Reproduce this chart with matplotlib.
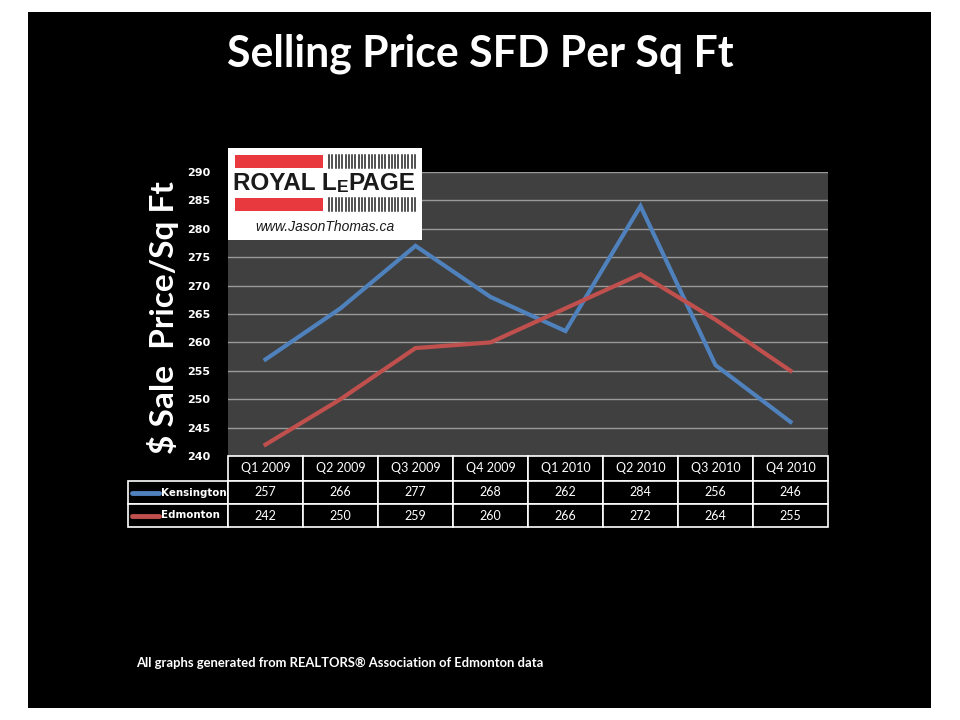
import numpy as np
import matplotlib
matplotlib.use('Agg')
import matplotlib.pyplot as plt
from matplotlib.patches import Rectangle
from matplotlib.table import Table

# data
quarters = ['Q1 2009', 'Q2 2009', 'Q3 2009', 'Q4 2009',
            'Q1 2010', 'Q2 2010', 'Q3 2010', 'Q4 2010']
kensington = [257, 266, 277, 268, 262, 284, 256, 246]
edmonton = [242, 250, 259, 260, 266, 272, 264, 255]
series_names = ['Kensington', 'Edmonton']
series_colors = ['#4F81BD', '#C0504D']
y_ticks = [240, 245, 250, 255, 260, 265, 270, 275, 280, 285, 290]

W, H = 960, 720
font = ['Lato', 'DejaVu Sans']


def px(x0, y0, x1, y1):
    # pixel box (top-left origin) -> figure fraction rect
    return [x0 / W, 1 - y1 / H, (x1 - x0) / W, (y1 - y0) / H]


fig = plt.figure(figsize=(9.6, 7.2), dpi=100, facecolor='white')

# black slide background
fig.patches.append(Rectangle((28 / W, 1 - 708 / H), (931 - 28) / W, (708 - 12) / H,
                             transform=fig.transFigure, facecolor='black',
                             edgecolor='none', zorder=-10))

fig.text(480 / W, 1 - 54 / H, 'Selling Price SFD Per Sq Ft', color='white',
         fontsize=30.8, fontweight='bold', family=font, ha='center', va='center')

# main plot
ax = fig.add_axes(px(228, 172, 828, 456))
ax.set_facecolor('#404040')
x = np.arange(len(quarters))
for vals, c in zip([kensington, edmonton], series_colors):
    ax.plot(x, vals, color=c, lw=3.0, solid_joinstyle='miter', zorder=3)
ax.set_xlim(-0.5, len(quarters) - 0.5)
ax.set_ylim(240, 290)
ax.set_yticks(y_ticks)
ax.set_xticks([])
ax.yaxis.grid(True, color='#9a9a9a', lw=1)
ax.set_axisbelow(True)
ax.tick_params(axis='y', length=0, pad=13, colors='white', labelsize=8)
for lab in ax.get_yticklabels():
    lab.set_fontweight('bold')
for s in ax.spines.values():
    s.set_visible(False)

fig.text(163 / W, 1 - 318 / H, '$ Sale  Price/Sq Ft', color='white', fontsize=24,
         fontweight='bold', family=font, rotation=90, ha='center', va='center')

# data table below the plot
tax = fig.add_axes(px(128, 456, 828, 527))
tax.set_axis_off()
tab = Table(tax, bbox=[0, 0, 1, 1])
lab_w = 100 / 700
col_w = 75 / 700
row_h = [25 / 71, 23 / 71, 23 / 71]
for j, q in enumerate(quarters):
    tab.add_cell(0, j + 1, width=col_w, height=row_h[0], text=q, loc='center')
for i, vals in enumerate([kensington, edmonton]):
    tab.add_cell(i + 1, 0, width=lab_w, height=row_h[i + 1], text='')
    for j, v in enumerate(vals):
        tab.add_cell(i + 1, j + 1, width=col_w, height=row_h[i + 1], text=str(v),
                     loc='center')
for cell in tab.get_celld().values():
    cell.set_facecolor('black')
    cell.set_edgecolor('white')
    cell.set_linewidth(1.2)
    cell.get_text().set_color('white')
    cell.get_text().set_fontsize(9)
    cell.get_text().set_family(font)
tab.auto_set_font_size(False)
tax.add_table(tab)

# legend keys inside the row-label cells
for i, (name, c) in enumerate(zip(series_names, series_colors)):
    yc = 1 - (25 + 23 * i + 11.5) / 71
    tax.plot([4 / 700, 31 / 700], [yc, yc], color=c, lw=3.5,
             solid_capstyle='round', transform=tax.transAxes, zorder=5)
    tax.text(33 / 700, yc, name, color='white', fontsize=7.4, fontweight='bold',
             transform=tax.transAxes, va='center', ha='left', zorder=5)

# logo box
lax = fig.add_axes(px(228, 148, 422, 240))
lax.set_xlim(0, 194)
lax.set_ylim(92, 0)
lax.set_facecolor('white')
lax.set_xticks([])
lax.set_yticks([])
for s in lax.spines.values():
    s.set_visible(False)
for y0, y1 in [(7, 20), (50, 63)]:
    lax.add_patch(Rectangle((7, y0), 88, y1 - y0, facecolor='#E8393F', edgecolor='none'))
    for xs in np.linspace(101, 187, 27):
        lax.plot([xs, xs], [y0, y1], color='#222222', lw=1.1)
t1 = lax.text(5, 35, 'ROYAL L', fontsize=17.5, fontweight='bold', color='#1a1a1a',
              family=['Liberation Sans', 'DejaVu Sans'], va='center', ha='left')
t2 = lax.annotate('E', xy=(1, 0), xycoords=t1, fontsize=12.5, fontweight='bold',
                  color='#1a1a1a', family=['Liberation Sans', 'DejaVu Sans'],
                  va='bottom', ha='left')
lax.annotate('PAGE', xy=(1, 0), xycoords=t2, fontsize=17.5, fontweight='bold',
             color='#1a1a1a', family=['Liberation Sans', 'DejaVu Sans'],
             va='bottom', ha='left')
lax.text(97, 79, 'www.JasonThomas.ca', fontsize=10, style='italic', color='#1a1a1a',
         family=['Liberation Sans', 'DejaVu Sans'], va='center', ha='center')

fig.text(136 / W, 1 - 663 / H,
         'All graphs generated from REALTORS\u00ae Association of Edmonton data',
         color='white', fontsize=9.4, fontweight='bold', family=font,
         ha='left', va='center')

fig.savefig('out.png', dpi=100, facecolor='white')
